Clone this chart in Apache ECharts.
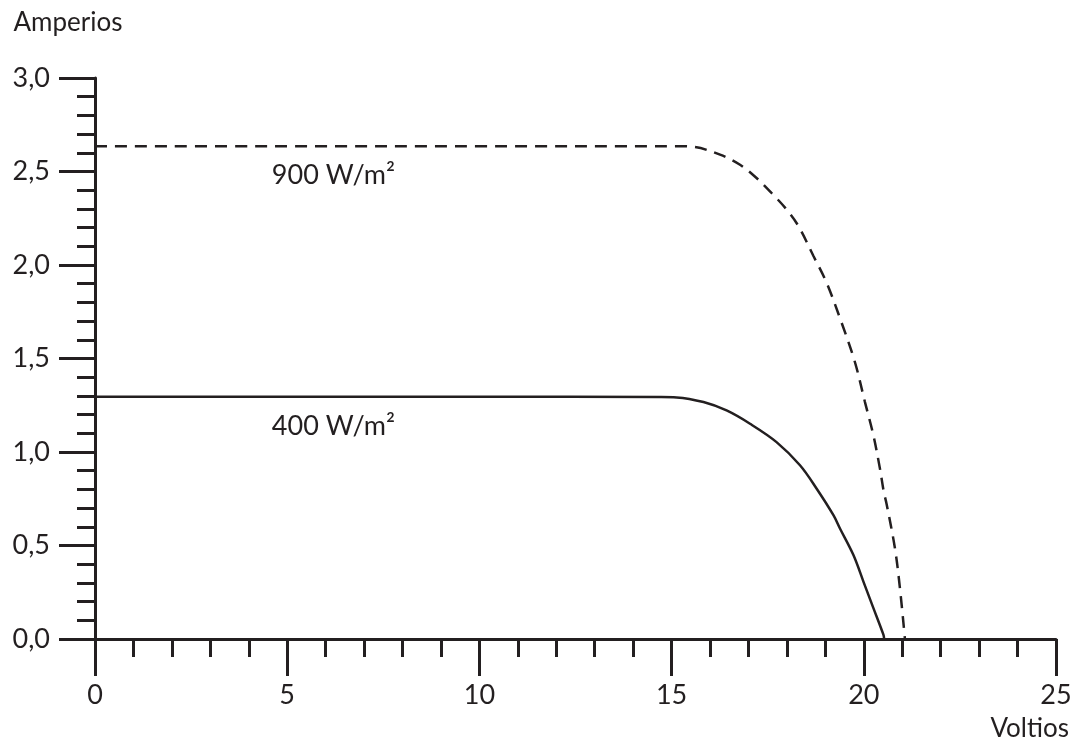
<!DOCTYPE html>
<html>
<head>
<meta charset="utf-8">
<script src="https://cdn.jsdelivr.net/npm/echarts@6/dist/echarts.min.js"></script>
<style>
html,body{margin:0;padding:0;background:#fff;}
#chart{width:1081px;height:742px;}
</style>
</head>
<body>
<div id="chart"></div>
<script>
// ---- data ----
const seriesNames = ['900 W/m²', '400 W/m²'];
const curve900 = [
  [0, 2.635], [5, 2.635], [10, 2.635], [15.2, 2.635], [15.56, 2.632], [16.26, 2.59],
  [16.78, 2.536], [17.21, 2.465], [17.6, 2.385], [17.99, 2.297], [18.3, 2.208],
  [18.69, 2.048], [19.03, 1.906], [19.42, 1.693], [19.77, 1.48], [20.03, 1.267],
  [20.25, 1.089], [20.42, 0.911], [20.52, 0.787], [20.59, 0.725], [20.81, 0.485],
  [20.94, 0.272], [21.07, 0]
];
const curve400 = [
  [0, 1.295], [5, 1.295], [10, 1.295], [14.7, 1.294], [15.13, 1.292], [15.83, 1.267],
  [16.43, 1.222], [17.04, 1.151], [17.73, 1.053], [18.34, 0.929], [18.77, 0.805],
  [19.21, 0.662], [19.38, 0.591], [19.73, 0.449], [19.99, 0.307], [20.25, 0.165],
  [20.51, 0.023], [20.53, 0]
];
const labelX = 4.6;
const xTicks = [0, 5, 10, 15, 20, 25];
const yTicks = [0, 0.5, 1.0, 1.5, 2.0, 2.5, 3.0];
const xName = 'Voltios';
const yName = 'Amperios';

const ink = '#231f20';
const font = 'Lato';

const chart = echarts.init(document.getElementById('chart'));
function mkLabel(name, y) {
  return {
    symbol: 'circle', symbolSize: 0, silent: true,
    data: [{ coord: [labelX, y], value: name }],
    label: {
      show: true, position: 'inside', align: 'left', verticalAlign: 'middle',
      offset: [0, 29], formatter: '{c}', color: ink, fontFamily: font, fontSize: 27
    }
  };
}
chart.setOption({
  animation: false,
  backgroundColor: '#fff',
  grid: { left: 95, right: 25, top: 78, bottom: 101, containLabel: false },
  xAxis: {
    type: 'value', min: xTicks[0], max: xTicks[xTicks.length - 1], interval: 5,
    name: xName, nameLocation: 'end', nameGap: 13,
    nameTextStyle: { color: ink, fontFamily: font, fontSize: 26, align: 'right', verticalAlign: 'top', padding: [77, 0, 0, 0] },
    axisLine: { show: true, onZero: false, lineStyle: { color: ink, width: 3 } },
    axisTick: { show: true, length: 37, lineStyle: { color: ink, width: 3 } },
    minorTick: { show: true, splitNumber: 5, length: 18, lineStyle: { color: ink, width: 3 } },
    axisLabel: { color: ink, fontFamily: font, fontSize: 27, margin: 43 },
    splitLine: { show: false }, minorSplitLine: { show: false }
  },
  yAxis: {
    type: 'value', min: yTicks[0], max: yTicks[yTicks.length - 1], interval: 0.5,
    name: yName, nameLocation: 'end', nameGap: 42,
    nameTextStyle: { color: ink, fontFamily: font, fontSize: 26, align: 'center', padding: [0, 54, 0, 0] },
    axisLine: { show: true, onZero: false, lineStyle: { color: ink, width: 3 } },
    axisTick: { show: true, length: 36, lineStyle: { color: ink, width: 3 } },
    minorTick: { show: true, splitNumber: 5, length: 18, lineStyle: { color: ink, width: 3 } },
    axisLabel: { color: ink, fontFamily: font, fontSize: 27, margin: 45,
      formatter: v => v.toFixed(1).replace('.', ',') },
    splitLine: { show: false }, minorSplitLine: { show: false }
  },
  series: [
    {
      name: seriesNames[0], type: 'line', data: curve900, showSymbol: false, smooth: 0.35,
      lineStyle: { color: ink, width: 2.5, type: [12, 8] },
      markPoint: mkLabel(seriesNames[0], curve900[0][1])
    },
    {
      name: seriesNames[1], type: 'line', data: curve400, showSymbol: false, smooth: 0.35,
      lineStyle: { color: ink, width: 2.5 },
      markPoint: mkLabel(seriesNames[1], curve400[0][1])
    }
  ]
});
</script>
</body>
</html>
